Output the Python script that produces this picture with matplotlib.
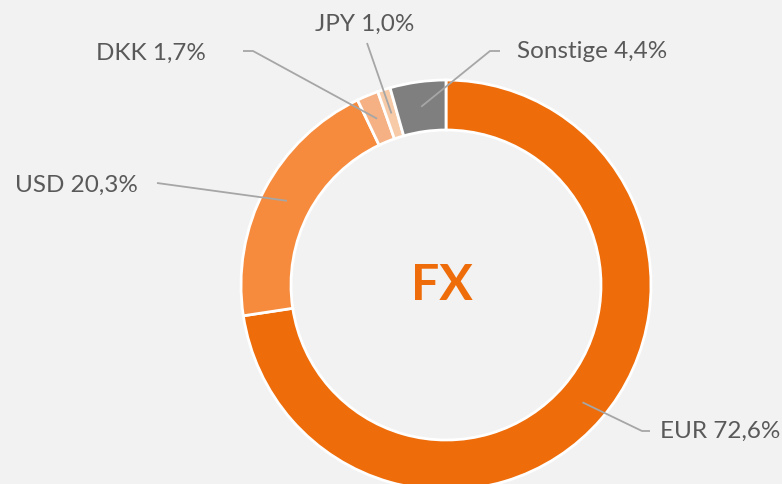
import numpy as np
import matplotlib.pyplot as plt

W, H = 782, 484

labels = ["EUR", "USD", "DKK", "JPY", "Sonstige"]
shares = [72.6, 20.3, 1.7, 1.0, 4.4]
colors = ["#EE6C0A", "#F68B3E", "#F5B183", "#F8CBA8", "#7F7F7F"]

# label text anchor (image px) and leader line start / elbow (image px)
label_pos = [(660, 431, "left"), (138, 185, "right"), (206, 53, "right"),
             (414, 24, "right"), (517, 52, "left")]
leader_start = [(650, 431), (157, 183), (243, 51), (367, 43), (500, 51)]
leader_elbow = [(642, 431), (157, 183), (253, 51), (367, 43), (490, 51)]

CX, CY, R, RING = 446, 285, 205, 50

plt.rcParams["font.family"] = ["Lato", "DejaVu Sans"]

fig = plt.figure(figsize=(W / 100, H / 100), dpi=100, facecolor="#F2F2F2")
ax = fig.add_axes([0, 0, 1, 1])
ax.set_facecolor("#F2F2F2")

wedges, _ = ax.pie(
    shares,
    colors=colors,
    startangle=90,
    counterclock=False,
    radius=R,
    center=(CX, H - CY),
    wedgeprops=dict(width=RING, edgecolor="white", linewidth=2),
)
ax.set_xlim(0, W)
ax.set_ylim(0, H)
ax.set_aspect("equal")
ax.axis("off")

r_mid = R - RING / 2
for w, lab, val, (tx, ty, ha), s, e in zip(wedges, labels, shares, label_pos,
                                            leader_start, leader_elbow):
    ang = np.deg2rad((w.theta1 + w.theta2) / 2)
    px = CX + r_mid * np.cos(ang)
    py = (H - CY) + r_mid * np.sin(ang)
    ax.plot([s[0], e[0], px], [H - s[1], H - e[1], py],
            color="#A6A6A6", lw=1.3, solid_capstyle="butt")
    txt = f"{lab} {val:.1f}%".replace(".", ",")
    ax.text(tx, H - ty, txt, ha=ha, va="center", fontsize=17.5,
            color="#595959")

ax.text(CX - 4, H - CY, "FX", ha="center", va="center", fontsize=36,
        fontweight="bold", color="#EE6C0A")

fig.savefig("out.png", dpi=100, facecolor=fig.get_facecolor())
